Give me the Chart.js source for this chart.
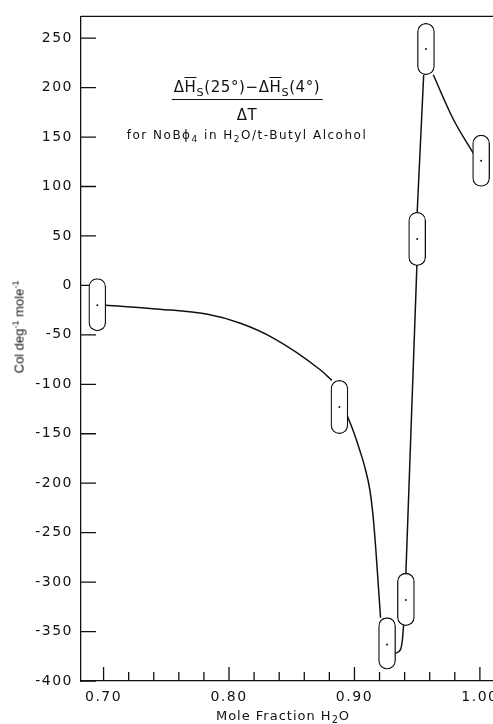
<!DOCTYPE html>
<html>
<head>
<meta charset="utf-8">
<script src="https://cdn.jsdelivr.net/npm/chart.js@4.4.1/dist/chart.umd.min.js"></script>
<style>
    html, body { margin: 0; padding: 0; background: #fff; overflow: hidden; }
    #wrap { position: relative; width: 520px; height: 724px; }
    .note { position: absolute; transform: translateX(-50%); white-space: nowrap;
            font-family: "DejaVu Sans", sans-serif; color: #111; line-height: 1; }
    .note sub { font-size: 0.75em; vertical-align: -0.35em; line-height: 0; }
    .note sup { font-size: 0.7em; vertical-align: 0.55em; line-height: 0; }
    .ol { text-decoration: overline; text-decoration-thickness: 1px; }
    #num { left: 247px; top: 80px; font-size: 15px; letter-spacing: 0.6px;
           border-bottom: 1.2px solid #111; padding: 0 2px 4px 2px; }
    #den { left: 247px; top: 108px; font-size: 15px; letter-spacing: 0.6px; }
    #sub { left: 247px; top: 129px; font-size: 12px; letter-spacing: 1.5px; }
    #xt  { left: 283px; top: 709px; font-size: 13px; letter-spacing: 1px; }
    #yt  { left: 19px; top: 327px; font-family: "Liberation Sans", sans-serif; font-size: 13px;
           transform: translate(-50%, -50%) rotate(-90deg); }
</style>
</head>
<body>
<div id="wrap">
    <canvas id="chart"></canvas>
    <div class="note" id="num">Δ<span class="ol">H</span><sub>S</sub>(25°)−Δ<span class="ol">H</span><sub>S</sub>(4°)</div>
    <div class="note" id="den">ΔT</div>
    <div class="note" id="sub">for NoBϕ<sub>4</sub> in H<sub>2</sub>O/t-Butyl Alcohol</div>
    <div class="note" id="xt">Mole Fraction H<sub>2</sub>O</div>
    <div class="note" id="yt">Col deg<sup>-1</sup> mole<sup>-1</sup></div>
</div>
<script>
// measured points (centre of each error capsule) and their ranges
const pointX  = [0.695, 0.888, 0.926, 0.941, 0.950, 0.957, 1.001];
const pointY  = [-20, -123, -363, -318, 47, 239, 126];
const pointHi = [7, -96, -336, -291, 74, 265, 152];
const pointLo = [-46, -150, -388, -344, 20, 213, 100];

// hand drawn curve, read along the line between the capsules (null = break)
const curveX = [0.7016, 0.7447, 0.782, 0.8085, 0.835, 0.8724, 0.882, 0.888,
                0.8937, 0.899, 0.9043, 0.9083, 0.9123, 0.9149, 0.9171, 0.9189, 0.9208, 0.926,
                0.9325, 0.9368, 0.9384, 0.9392, 0.940,
                0.941, 0.9498, 0.9499,
                0.9500, 0.9552, 0.957,
                0.9628, 0.9788, 0.9955];
const curveY = [-20, -24, -29, -38, -53, -85, -96, null,
                -130, -147, -167, -184, -207, -234, -268, -301, -336, null,
                -372, -368, -356, -343, null,
                -291, 21, null,
                74, 213, null,
                213, 168, 132];

// axis ticks
const xTicks = [0.70, 0.80, 0.90, 1.00];
const xMinor = [0.72, 0.74, 0.76, 0.78, 0.82, 0.84, 0.86, 0.88, 0.92, 0.94, 0.96, 0.98];
const yTicks = [-400, -350, -300, -250, -200, -150, -100, -50, 0, 50, 100, 150, 200, 250];

const ink = '#111';
const font = { family: '"DejaVu Sans", sans-serif', size: 14 };

const innerTicks = {
    id: 'innerTicks',
    beforeDraw(chart) {
        chart.ctx.letterSpacing = '1.5px';
    },
    beforeDatasetsDraw(chart) {
        const { ctx, chartArea: a, scales: { x, y } } = chart;
        ctx.save();
        ctx.strokeStyle = ink;
        ctx.lineWidth = 1.3;
        ctx.beginPath();
        yTicks.forEach(v => {
            const py = y.getPixelForValue(v);
            ctx.moveTo(a.left, py);
            ctx.lineTo(a.left + 15, py);
        });
        xTicks.forEach(v => {
            const px = x.getPixelForValue(v);
            ctx.moveTo(px, a.bottom);
            ctx.lineTo(px, a.bottom - 14);
        });
        xMinor.forEach(v => {
            const px = x.getPixelForValue(v);
            ctx.moveTo(px, a.bottom);
            ctx.lineTo(px, a.bottom - 9);
        });
        ctx.moveTo(a.left, a.top);
        ctx.lineTo(a.right, a.top);
        ctx.stroke();
        ctx.restore();
    }
};

new Chart(document.getElementById('chart'), {
    type: 'scatter',
    data: {
        datasets: [
            {
                type: 'scatter',
                data: pointX.map((x, i) => ({ x: x, y: pointY[i] })),
                pointRadius: 1,
                pointBackgroundColor: ink,
                pointBorderWidth: 0,
                order: 0
            },
            {
                type: 'bar',
                data: pointX.map((x, i) => ({ x: x, y: [pointLo[i], pointHi[i]] })),
                backgroundColor: '#fff',
                borderColor: ink,
                borderWidth: 1.3,
                borderSkipped: false,
                borderRadius: 9,
                barThickness: 17,
                order: 1
            },
            {
                type: 'line',
                data: curveX.map((x, i) => ({ x: x, y: curveY[i] })),
                borderColor: ink,
                borderWidth: 1.5,
                pointRadius: 0,
                cubicInterpolationMode: 'monotone',
                spanGaps: false,
                fill: false,
                order: 2
            }
        ]
    },
    options: {
        responsive: true,
        maintainAspectRatio: false,
        animation: false,
        layout: { padding: { top: 11, right: 10, left: 0, bottom: 0 } },
        plugins: { legend: { display: false }, tooltip: { enabled: false } },
        scales: {
            x: {
                type: 'linear',
                offset: false,
                min: 0.682,
                max: 1.024,
                afterBuildTicks: s => { s.ticks = xTicks.map(v => ({ value: v })); },
                afterFit: s => { s.height = 43; },
                grid: { display: false, drawTicks: false },
                border: { display: true, color: ink, width: 1.3 },
                ticks: { color: ink, font: font, padding: 8, maxRotation: 0, callback: v => v.toFixed(2) }
            },
            y: {
                min: -400,
                max: 272,
                afterBuildTicks: s => { s.ticks = yTicks.map(v => ({ value: v })); },
                afterFit: s => { s.width = 81; },
                grid: { display: false, drawTicks: false },
                border: { display: true, color: ink, width: 1.3 },
                ticks: { color: ink, font: font, padding: 8, callback: v => String(v) }
            }
        }
    },
    plugins: [innerTicks]
});
</script>
</body>
</html>
